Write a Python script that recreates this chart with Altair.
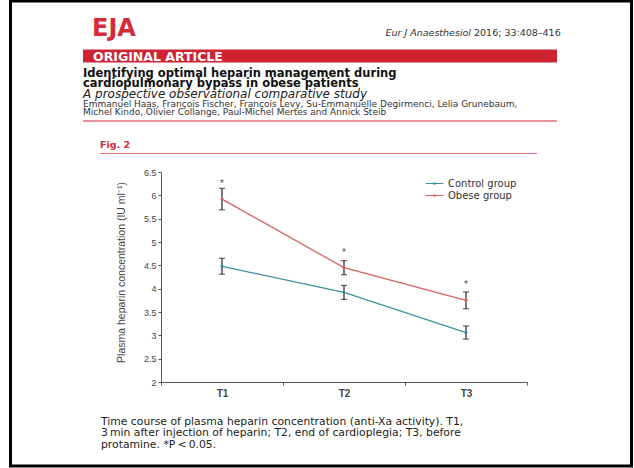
import altair as alt
import pandas as pd

# ---- data ----
times = ["T1", "T2", "T3"]
groups = ["Control group", "Obese group"]
control_mean = [4.48, 3.92, 3.06]
control_err = [0.17, 0.15, 0.14]
obese_mean = [5.92, 4.45, 3.75]
obese_err = [0.23, 0.15, 0.18]
star_y = [6.31, 4.82, 4.15]
y_ticks = [2, 2.5, 3, 3.5, 4, 4.5, 5, 5.5, 6, 6.5]
colors = ["#3f8fa1", "#d2625f"]

rows = []
for g, means, errs in [(groups[0], control_mean, control_err), (groups[1], obese_mean, obese_err)]:
    for t, m, e in zip(times, means, errs):
        rows.append({"time": t, "group": g, "mean": m, "lo": m - e, "hi": m + e})
df = pd.DataFrame(rows)
stars = pd.DataFrame({"time": times, "y": star_y, "s": ["*"] * 3})
one = pd.DataFrame({"k": [0]})

W, H = 366, 210
FONT = "Liberation Sans"
DJ = "DejaVu Sans"

xscale = alt.Scale(type="band", domain=times, paddingInner=0, paddingOuter=0)
xaxis = alt.Axis(title=None, tickBand="extent", labelAngle=0, labelFontWeight="bold",
                 labelFontSize=10, labelColor="#444", labelPadding=3, tickSize=3,
                 domainColor="#555", tickColor="#555", labelFont=FONT)
yscale = alt.Scale(domain=[2, 6.5], nice=False, zero=False)
yaxis = alt.Axis(values=y_ticks, format="~g", grid=False, tickSize=3, labelFontSize=9,
                 labelColor="#444", labelPadding=2, labelOverlap=False, labelFlush=False,
                 domainColor="#555", tickColor="#555",
                 title="Plasma heparin concentration (IU ml\u207b\u00b9)", titleFontSize=10.5,
                 titleFontWeight="normal", titleColor="#444", titleAngle=-90,
                 titleX=-40, titleY=100, titleAlign="center", titleBaseline="middle",
                 labelFont=FONT, titleFont=FONT)


def X():
    return alt.X("time:N", scale=xscale, axis=xaxis, bandPosition=0.5)


def Y(field):
    return alt.Y(field, scale=yscale, axis=yaxis,
                 title="Plasma heparin concentration (IU ml\u207b\u00b9)")


LEG_SYM = "M-1.6,0L1.6,0M-0.12,0a0.12,0.12 0 1,0 0.24,0a0.12,0.12 0 1,0 -0.24,0"
colorenc = alt.Color("group:N", scale=alt.Scale(domain=groups, range=colors),
                     legend=alt.Legend(title=None, orient="none", legendX=267, legendY=5,
                                       symbolType=LEG_SYM, symbolSize=121, symbolStrokeWidth=1.2,
                                       labelFontSize=10, labelColor="#333", labelFont=DJ,
                                       rowPadding=0, labelOffset=7))

base = alt.Chart(df)
lines = base.mark_line(strokeWidth=1.3).encode(
    x=X(), y=Y("mean:Q"), color=colorenc, detail="group:N")
pts = base.mark_point(filled=True, size=10, opacity=1).encode(
    x=X(), y=Y("mean:Q"),
    color=alt.Color("group:N", scale=alt.Scale(domain=groups, range=colors), legend=None))
err = base.mark_rule(color="#222", strokeWidth=1.2).encode(
    x=X(), y=Y("lo:Q"), y2="hi:Q")
cap_lo = base.mark_tick(orient="horizontal", size=6, thickness=1.2, color="#222").encode(
    x=X(), y=Y("lo:Q"))
cap_hi = base.mark_tick(orient="horizontal", size=6, thickness=1.2, color="#222").encode(
    x=X(), y=Y("hi:Q"))
star = alt.Chart(stars).mark_text(fontSize=10, color="#555", font=FONT, baseline="middle", dy=3).encode(
    x=X(), y=Y("y:Q"), text="s:N")


def txt(s, x, y, size, color="#222", weight="normal", style="normal", align="left", font=DJ):
    return alt.Chart(one).mark_text(text=s, fontSize=size, color=color, fontWeight=weight,
                                    fontStyle=style, align=align, baseline="alphabetic",
                                    font=font).encode(x=alt.value(x), y=alt.value(y))


def hline(x1, x2, y, color, w):
    return alt.Chart(one).mark_rule(color=color, strokeWidth=w).encode(
        x=alt.value(x1), x2=alt.value(x2), y=alt.value(y))


OX, OY = 161, 172  # plot origin on the page
RED = "#d42b3b"

frame = alt.Chart(one).mark_rect(fill=None, stroke="#000", strokeWidth=3).encode(
    x=alt.value(10.5 - OX), x2=alt.value(631.5 - OX), y=alt.value(1 - OY), y2=alt.value(466 - OY))
banner = alt.Chart(one).mark_rect(color="#cf2233").encode(
    x=alt.value(83 - OX), x2=alt.value(557 - OX), y=alt.value(49.5 - OY), y2=alt.value(62.5 - OY))

deco = [
    frame,
    txt("EJA", 92 - OX, 36 - OY, 24, RED, "bold"),
    txt("Eur J Anaesthesiol", 471 - OX, 36 - OY, 9.5, "#333", style="italic", align="right"),
    txt("2016; 33:408\u2013416", 474 - OX, 36 - OY, 9.5, "#333"),
    banner,
    txt("ORIGINAL ARTICLE", 93 - OX, 60.5 - OY, 12.5, "white", "bold"),
    txt("Identifying optimal heparin management during", 83 - OX, 77 - OY, 11.5, "#111", "bold"),
    txt("cardiopulmonary bypass in obese patients", 83 - OX, 87 - OY, 11.5, "#111", "bold"),
    txt("A prospective observational comparative study", 83 - OX, 97.5 - OY, 12, "#222", style="italic"),
    txt("Emmanuel Haas, Fran\u00e7ois Fischer, Fran\u00e7ois Levy, Su-Emmanuelle Degirmenci, Lelia Grunebaum,",
        83 - OX, 107 - OY, 9, "#333"),
    txt("Michel Kindo, Olivier Collange, Paul-Michel Mertes and Annick Steib", 83 - OX, 115 - OY, 9, "#333"),
    hline(83 - OX, 557 - OX, 121 - OY, RED, 1.2),
    txt("Fig. 2", 100 - OX, 147.5 - OY, 9.5, "#d02840", "bold"),
    hline(100 - OX, 537 - OX, 153.5 - OY, "#e06a75", 1),
    txt("Time course of plasma heparin concentration (anti-Xa activity). T1,", 101 - OX, 424.5 - OY, 10.8, "#222"),
    txt("3\u2009min after injection of heparin; T2, end of cardioplegia; T3, before", 101 - OX, 436 - OY, 10.8, "#222"),
    txt("protamine. *P\u2009<\u20090.05.", 101 - OX, 447.5 - OY, 10.8, "#222"),
]

chart = alt.layer(lines, err, cap_lo, cap_hi, pts, star, *deco).properties(
    width=W, height=H,
    padding={"left": OX, "top": OY, "right": 634 - OX - W, "bottom": 468 - OY - H},
    autosize=alt.AutoSizeParams(type="none"),
    background="white",
).configure_view(stroke=None)

chart.save("out.html", embed_options={"renderer": "svg", "actions": False})
